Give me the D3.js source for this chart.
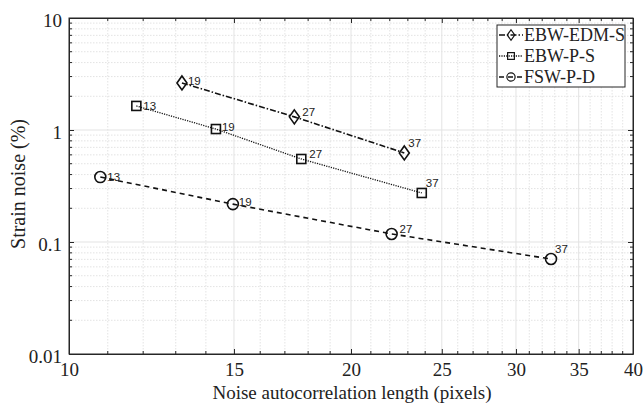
<!DOCTYPE html>
<html><head><meta charset="utf-8">
<script src="https://cdn.jsdelivr.net/npm/d3@7"></script>
<style>body{margin:0;background:#fff}svg{display:block}</style>
</head><body><svg id="c" width="643" height="406"></svg>
<script>
// ---- data ----
const seriesNames = ["EBW-EDM-S", "EBW-P-S", "FSW-P-D"];
const ebwEdmX = [13.2, 17.4, 22.8];
const ebwEdmY = [2.63, 1.31, 0.624];
const ebwEdmLabels = ["19", "27", "37"];
const ebwPX = [11.8, 14.35, 17.7, 23.8];
const ebwPY = [1.64, 1.02, 0.551, 0.274];
const ebwPLabels = ["13", "19", "27", "37"];
const fswX = [10.8, 14.96, 22.1, 32.7];
const fswY = [0.380, 0.218, 0.118, 0.0705];
const fswLabels = ["13", "19", "27", "37"];
const xTicks = [10, 15, 20, 25, 30, 35, 40];
const yTicks = [0.01, 0.1, 1, 10];
const xLabel = "Noise autocorrelation length (pixels)";
const yLabel = "Strain noise (%)";

// ---- layout ----
const L = 69, R = 633, T = 18, B = 354;
const svg = d3.select("#c");
const x = d3.scaleLog().domain([10, 40]).range([L, R]);
const y = d3.scaleLog().domain([0.01, 10]).range([B, T]);
const axisCol = "#262626";
const serif = "'Liberation Serif','Times New Roman',serif";
const sans = "'Liberation Sans',Arial,sans-serif";

// minor values
const xMinor = d3.range(11, 40).filter(v => !xTicks.includes(v));
const yMinor = [];
[0.01, 0.1, 1].forEach(d => { for (let k = 2; k <= 9; k++) yMinor.push(d * k); });

const g = svg.append("g");
// minor grid
g.selectAll(".xmg").data(xMinor).join("line")
  .attr("x1", d => x(d)).attr("x2", d => x(d)).attr("y1", T).attr("y2", B)
  .attr("stroke", "#dcdcdc").attr("stroke-width", 0.8).attr("stroke-dasharray", "1.5,1.5");
g.selectAll(".ymg").data(yMinor).join("line")
  .attr("y1", d => y(d)).attr("y2", d => y(d)).attr("x1", L).attr("x2", R)
  .attr("stroke", "#dcdcdc").attr("stroke-width", 0.8).attr("stroke-dasharray", "1.5,1.5");
// major grid
g.selectAll(".xMg").data(xTicks.slice(1, -1)).join("line")
  .attr("x1", d => x(d)).attr("x2", d => x(d)).attr("y1", T).attr("y2", B)
  .attr("stroke", "#e3e3e3").attr("stroke-width", 1);
g.selectAll(".yMg").data(yTicks.slice(1, -1)).join("line")
  .attr("y1", d => y(d)).attr("y2", d => y(d)).attr("x1", L).attr("x2", R)
  .attr("stroke", "#e3e3e3").attr("stroke-width", 1);

// axes (MATLAB-like inside ticks)
const fmt = d => String(d);
const axB = d3.axisBottom(x).tickValues(xTicks).tickFormat(fmt).tickSizeInner(-5).tickSizeOuter(0).tickPadding(9);
const axL = d3.axisLeft(y).tickValues(yTicks).tickFormat(fmt).tickSizeInner(-5).tickSizeOuter(0).tickPadding(7);
const axT = d3.axisTop(x).tickValues(xTicks).tickFormat("").tickSizeInner(-5).tickSizeOuter(0);
const axR = d3.axisRight(y).tickValues(yTicks).tickFormat("").tickSizeInner(-5).tickSizeOuter(0);
function style(sel) {
  sel.attr("font-size", null).attr("font-family", null);
  sel.selectAll("path").attr("stroke", axisCol);
  sel.selectAll("line").attr("stroke", axisCol);
  sel.selectAll("text").attr("fill", "#222").style("font-family", serif).style("font-size", "19px");
}
style(svg.append("g").attr("transform", `translate(0,${B})`).call(axB));
const gl = svg.append("g").attr("transform", `translate(${L},0)`).call(axL);
style(gl);
gl.selectAll("text").attr("dy", "0.45em");
style(svg.append("g").attr("transform", `translate(0,${T})`).call(axT));
style(svg.append("g").attr("transform", `translate(${R},0)`).call(axR));
// minor ticks
const mt = svg.append("g").attr("stroke", axisCol).attr("stroke-width", 1);
xMinor.forEach(v => {
  mt.append("line").attr("x1", x(v)).attr("x2", x(v)).attr("y1", B).attr("y2", B - 3);
  mt.append("line").attr("x1", x(v)).attr("x2", x(v)).attr("y1", T).attr("y2", T + 3);
});
yMinor.forEach(v => {
  mt.append("line").attr("y1", y(v)).attr("y2", y(v)).attr("x1", L).attr("x2", L + 3);
  mt.append("line").attr("y1", y(v)).attr("y2", y(v)).attr("x1", R).attr("x2", R - 3);
});
svg.append("rect").attr("x", L).attr("y", T).attr("width", R - L).attr("height", B - T)
  .attr("fill", "none").attr("stroke", axisCol).attr("stroke-width", 1);

// axis titles
svg.append("text").attr("x", 352).attr("y", 399).attr("text-anchor", "middle")
  .style("font-family", serif).style("font-size", "19px").attr("fill", "#222").text(xLabel);
svg.append("text").attr("transform", `translate(25,${184}) rotate(-90)`).attr("text-anchor", "middle")
  .style("font-family", serif).style("font-size", "20px").attr("fill", "#222").text(yLabel);

// ---- series ----
const series = [
  { name: seriesNames[0], xs: ebwEdmX, ys: ebwEdmY, labels: ebwEdmLabels, dash: "6,2,1.5,2", width: 1.6, marker: "diamond" },
  { name: seriesNames[1], xs: ebwPX, ys: ebwPY, labels: ebwPLabels, dash: "1.2,1.2", width: 1.3, marker: "square" },
  { name: seriesNames[2], xs: fswX, ys: fswY, labels: fswLabels, dash: "5,4", width: 1.6, marker: "circle" },
];
const labelOffsets = { "13": [7, 0], "19": [6, -2], "27": [8, -5], "37": [4, -10] };

function drawMarker(sel, type, cx, cy) {
  const st = m => m.attr("fill", "none").attr("stroke", "#111").attr("stroke-width", 1.6);
  if (type === "diamond") st(sel.append("path").attr("d", `M${cx},${cy - 7}L${cx + 5},${cy}L${cx},${cy + 7}L${cx - 5},${cy}Z`));
  else if (type === "square") st(sel.append("rect").attr("x", cx - 4.5).attr("y", cy - 4.5).attr("width", 9).attr("height", 9));
  else st(sel.append("circle").attr("cx", cx).attr("cy", cy).attr("r", 5.5));
}

const line = d3.line().x(d => x(d[0])).y(d => y(d[1]));
series.forEach(s => {
  const pts = s.xs.map((v, i) => [v, s.ys[i]]);
  svg.append("path").attr("d", line(pts)).attr("fill", "none").attr("stroke", "#111")
    .attr("stroke-width", s.width).attr("stroke-dasharray", s.dash);
  const mg = svg.append("g");
  pts.forEach((p, i) => {
    drawMarker(mg, s.marker, x(p[0]), y(p[1]));
    const off = labelOffsets[s.labels[i]];
    mg.append("text").attr("x", x(p[0]) + off[0]).attr("y", y(p[1]) + off[1]).attr("dy", "0.35em")
      .style("font-family", sans).style("font-size", "11.5px").attr("fill", "#222").text(s.labels[i]);
  });
});

// ---- legend ----
const lg = svg.append("g");
const lx = 497, ly = 25, lw = 128, lh = 62;
lg.append("rect").attr("x", lx).attr("y", ly).attr("width", lw).attr("height", lh)
  .attr("fill", "#fff").attr("stroke", axisCol).attr("stroke-width", 1);
series.forEach((s, i) => {
  const cy = ly + 10 + i * 21;
  lg.append("line").attr("x1", lx + 2).attr("x2", lx + 26).attr("y1", cy).attr("y2", cy)
    .attr("stroke", "#111").attr("stroke-width", s.width).attr("stroke-dasharray", s.dash);
  const mgl = lg.append("g").attr("transform", `translate(${lx + 14},${cy}) scale(0.75)`);
  drawMarker(mgl, s.marker, 0, 0);
  lg.append("text").attr("x", lx + 27).attr("y", cy).attr("dy", "0.35em")
    .style("font-family", serif).style("font-size", "18px").attr("fill", "#222").text(s.name);
});
</script></body></html>
